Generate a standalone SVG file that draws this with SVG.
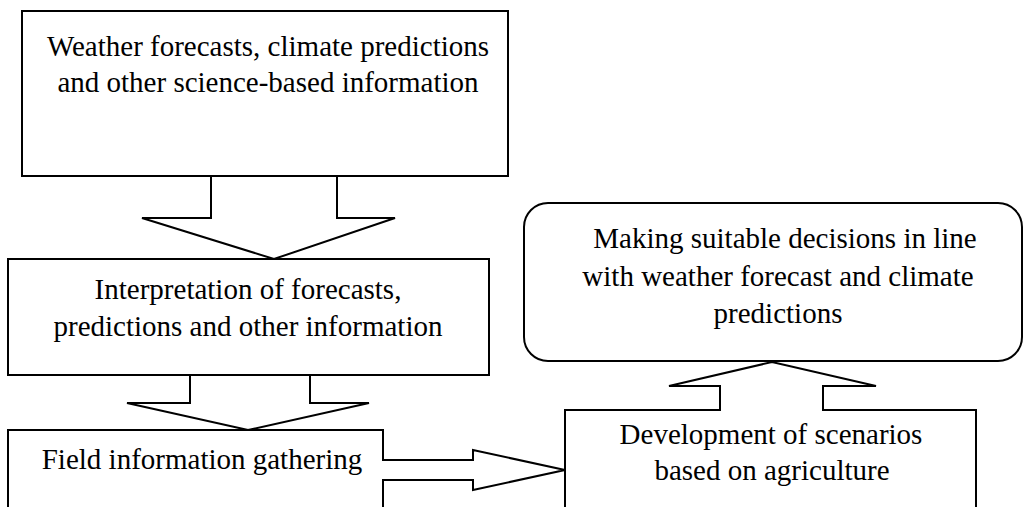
<svg xmlns="http://www.w3.org/2000/svg" width="1026" height="507" viewBox="0 0 1026 507">
  <style>
    .box { fill: #fff; stroke: #000; stroke-width: 2; }
    .arrow { fill: #fff; stroke: #000; stroke-width: 2; stroke-linejoin: miter; }
    .label { font-family: "Liberation Serif", "Times New Roman", serif; font-size: 29px; fill: #000; text-anchor: middle; }
  </style>
  <rect width="1026" height="507" fill="#fff"/>

  <g id="node-weather">
    <rect class="box" x="22" y="11" width="486" height="165"/>
    <text class="label" x="268" y="56">Weather forecasts, climate predictions</text>
    <text class="label" x="268" y="92">and other science-based information</text>
  </g>

  <g id="node-interpretation">
    <rect class="box" x="8" y="259" width="481" height="116"/>
    <text class="label" x="248" y="299">Interpretation of forecasts,</text>
    <text class="label" x="248" y="336">predictions and other information</text>
  </g>

  <g id="node-field">
    <rect class="box" x="8" y="430" width="375" height="90"/>
    <text class="label" x="202" y="469">Field information gathering</text>
  </g>

  <g id="node-scenarios">
    <rect class="box" x="565" y="410" width="411" height="110"/>
    <text class="label" x="771" y="444">Development of scenarios</text>
    <text class="label" x="772" y="480">based on agriculture</text>
  </g>

  <g id="node-decisions">
    <rect class="box" x="524" y="203" width="498" height="158" rx="24" ry="24"/>
    <text class="label" x="785" y="248">Making suitable decisions in line</text>
    <text class="label" x="778" y="286">with weather forecast and climate</text>
    <text class="label" x="778" y="323">predictions</text>
  </g>

  <g id="connectors">
    <!-- block arrow: weather -> interpretation -->
    <path class="arrow" d="M211,177 L211,218 L142,218 L274,259 L395,218 L337,218 L337,177"/>
    <!-- block arrow: interpretation -> field -->
    <path class="arrow" d="M190,376 L190,403 L127,403 L248,430 L369,403 L310,403 L310,376"/>
    <!-- block arrow: field -> scenarios -->
    <path class="arrow" d="M383,460 L473,460 L473,450 L565,470 L473,490 L473,480 L383,480"/>
    <!-- block arrow: scenarios -> decisions -->
    <path class="arrow" d="M720,410 L720,386 L669,386 L772,362 L876,386 L823,386 L823,410"/>
    <!-- cover the box edges that the arrows pass through -->
    <rect x="382" y="461" width="3" height="18" fill="#fff"/>
    <rect x="721" y="408" width="101" height="4" fill="#fff"/>
  </g>
</svg>
